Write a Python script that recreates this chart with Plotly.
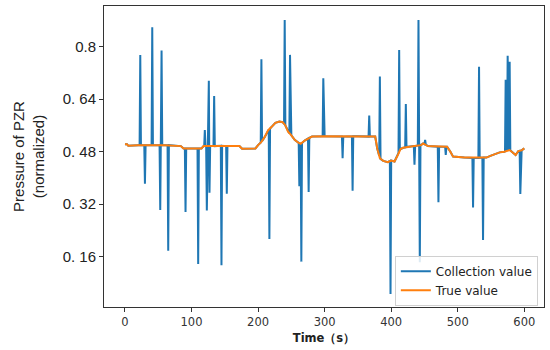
import plotly.graph_objects as go

# ---- data ----
true_t = [0, 3, 5, 12, 20, 40, 60, 84, 88, 100,
          115, 118, 125, 140, 160, 172, 176, 190, 196, 200,
          205, 210, 215, 220, 226, 232, 237, 241, 245, 250,
          255, 260, 264, 270, 276, 281, 300, 330, 350, 376,
          379, 383, 388, 395, 400, 405, 410, 414, 418, 425,
          435, 445, 448, 455, 470, 484, 489, 493, 510, 530,
          543, 550, 556, 563, 570, 578, 583, 587, 591, 596,
          600]
true_v = [0.503, 0.503, 0.498, 0.500, 0.500, 0.500, 0.500, 0.497, 0.490, 0.490,
          0.490, 0.497, 0.497, 0.498, 0.497, 0.497, 0.489, 0.489, 0.490, 0.500,
          0.510, 0.525, 0.545, 0.555, 0.568, 0.572, 0.570, 0.560, 0.541, 0.530,
          0.516, 0.508, 0.504, 0.514, 0.521, 0.526, 0.527, 0.526, 0.527, 0.526,
          0.490, 0.460, 0.452, 0.448, 0.453, 0.450, 0.470, 0.488, 0.492, 0.495,
          0.497, 0.500, 0.505, 0.497, 0.495, 0.495, 0.480, 0.465, 0.462, 0.461,
          0.462, 0.468, 0.472, 0.478, 0.480, 0.485, 0.477, 0.470, 0.482, 0.484,
          0.490]

# spike samples of the collected signal (with their neighbouring samples)
spike_t = [22, 23, 24, 29, 30, 31, 40, 41, 42,
           52, 53, 54, 55, 56, 64, 65, 66,
           90, 91, 92, 109, 110, 111,
           119, 120, 121, 122, 123, 124, 125, 126, 127, 128,
           133, 134, 135, 144, 145, 146, 152, 153, 154,
           204, 205, 206, 216, 217, 218, 239, 240, 241, 247, 248, 249,
           261, 262, 263, 264, 265, 266, 275, 276, 277, 297, 298, 299,
           326, 327, 328, 341, 342, 343, 366, 367, 368,
           382, 383, 384, 398, 399, 400, 411, 412, 413, 421, 422, 423,
           434, 435, 436, 440, 441, 442, 443, 444, 450, 451, 452,
           470, 471, 472, 481, 482, 483,
           522, 523, 524, 531, 532, 533, 537, 538, 539,
           571, 572, 573, 574, 575, 576, 577, 578, 579,
           593, 594, 595]
spike_v = [0.500, 0.775, 0.500, 0.500, 0.382, 0.500, 0.500, 0.859, 0.500,
           0.500, 0.302, 0.500, 0.788, 0.500, 0.500, 0.178, 0.500,
           0.490, 0.296, 0.490, 0.490, 0.138, 0.490,
           0.495, 0.546, 0.497, 0.497, 0.301, 0.497, 0.497, 0.696, 0.355, 0.497,
           0.497, 0.650, 0.497, 0.498, 0.134, 0.498, 0.497, 0.352, 0.497,
           0.508, 0.762, 0.512, 0.547, 0.214, 0.550, 0.565, 0.881, 0.560, 0.536, 0.775, 0.532,
           0.507, 0.375, 0.505, 0.504, 0.145, 0.506, 0.520, 0.357, 0.522, 0.527, 0.704, 0.527,
           0.526, 0.460, 0.526, 0.527, 0.361, 0.527, 0.526, 0.590, 0.526,
           0.468, 0.709, 0.458, 0.452, 0.046, 0.453, 0.476, 0.790, 0.484, 0.493, 0.625, 0.494,
           0.497, 0.440, 0.497, 0.499, 0.881, 0.500, 0.143, 0.501, 0.503, 0.516, 0.502,
           0.495, 0.326, 0.495, 0.495, 0.470, 0.495,
           0.461, 0.310, 0.461, 0.461, 0.739, 0.461, 0.462, 0.211, 0.462,
           0.481, 0.699, 0.482, 0.482, 0.772, 0.483, 0.483, 0.754, 0.484,
           0.483, 0.351, 0.484]

x_ticks = [0, 100, 200, 300, 400, 500, 600]
y_ticks = [0.16, 0.32, 0.48, 0.64, 0.8]
y_tick_text = ["0. 16", "0. 32", "0. 48", "0. 64", "0.8"]

# collected signal = true-value samples merged with the spike samples
merged = dict(zip(true_t, true_v))
merged.update(dict(zip(spike_t, spike_v)))
coll_t = sorted(merged)
coll_v = [merged[t] for t in coll_t]

fig = go.Figure()
fig.add_trace(go.Scatter(x=coll_t, y=coll_v, mode="lines", name="Collection value",
                         line=dict(color="#1f77b4", width=2)))
fig.add_trace(go.Scatter(x=true_t, y=true_v, mode="lines", name="True value",
                         line=dict(color="#ff7f0e", width=2)))

fig.update_layout(
    width=550, height=350,
    margin=dict(l=104, r=6, t=6, b=43),
    paper_bgcolor="white", plot_bgcolor="white",
    showlegend=True,
    legend=dict(x=0.986, y=0.004, xanchor="right", yanchor="bottom",
                bgcolor="rgba(255,255,255,0.85)", bordercolor="#d0d0d0", borderwidth=1,
                font=dict(family="DejaVu Sans", size=12, color="#222")),
    xaxis=dict(range=[-31.5, 629.6], tickvals=x_ticks, ticks="outside", ticklen=4,
               tickcolor="#333", showline=True, linecolor="#333", linewidth=1, mirror=True,
               showgrid=False, zeroline=False, automargin=False,
               tickfont=dict(family="DejaVu Sans", size=11.5, color="#333"),
               title=dict(text="<b>Time（s）</b>", standoff=6,
                          font=dict(family="DejaVu Sans", size=11.5, color="#222"))),
    yaxis=dict(range=[0.0067, 0.924], tickvals=y_ticks, ticktext=y_tick_text,
               ticks="outside", ticklen=4, tickcolor="#333",
               showline=True, linecolor="#333", linewidth=1, mirror=True,
               showgrid=False, zeroline=False, automargin=False,
               tickfont=dict(family="Liberation Sans", size=15, color="#222"),
               title=dict(text="Pressure of PZR<br>(normalized)", standoff=14,
                          font=dict(family="Liberation Sans", size=15, color="#222"))),
)

fig.write_html("out.html", config={"displayModeBar": False},
               post_script="document.body.style.margin='0px';")
